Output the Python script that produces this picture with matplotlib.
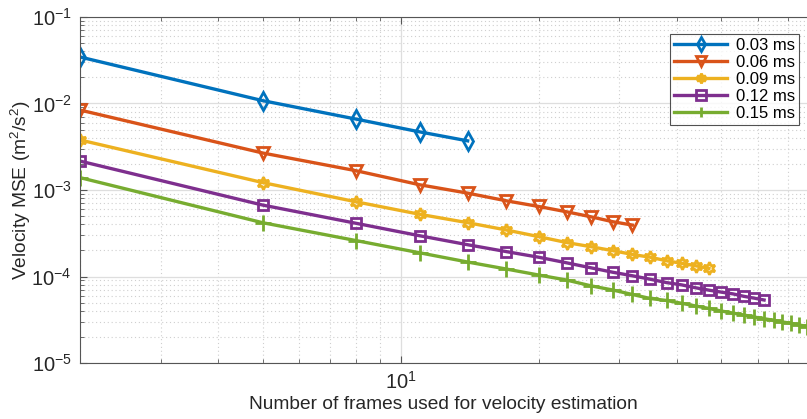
import matplotlib.pyplot as plt
from matplotlib.ticker import LogLocator, NullFormatter

plt.rcParams['font.family'] = ['Liberation Sans', 'DejaVu Sans']
plt.rcParams['mathtext.fontset'] = 'custom'
plt.rcParams['mathtext.rm'] = 'Liberation Sans'
plt.rcParams['mathtext.it'] = 'Liberation Sans'

labels = ["0.03 ms", "0.06 ms", "0.09 ms", "0.12 ms", "0.15 ms"]
colors = ["#0072BD", "#D95319", "#EDB120", "#7E2F8E", "#77AC30"]
# six-pointed star stands in for MATLAB's hexagram
markers = ["d", "v", (6, 1, 0), "s", "+"]
marker_sizes = [9, 8, 9, 7, 11]

frames_003 = [2, 5, 8, 11, 14]
mse_003 = [3.45e-2, 1.08e-2, 6.6e-3, 4.7e-3, 3.7e-3]

frames_006 = [2, 5, 8, 11, 14, 17, 20, 23, 26, 29, 32]
mse_006 = [8.4e-3, 2.68e-3, 1.67e-3, 1.15e-3, 9.2e-4, 7.5e-4, 6.45e-4,
           5.6e-4, 4.9e-4, 4.3e-4, 3.93e-4]

frames_009 = [2, 5, 8, 11, 14, 17, 20, 23, 26, 29, 32, 35, 38, 41, 44, 47]
mse_009 = [3.79e-3, 1.22e-3, 7.3e-4, 5.24e-4, 4.19e-4, 3.45e-4, 2.89e-4,
           2.47e-4, 2.21e-4, 1.99e-4, 1.8e-4, 1.67e-4, 1.52e-4, 1.42e-4,
           1.33e-4, 1.24e-4]

frames_012 = [2, 5, 8, 11, 14, 17, 20, 23, 26, 29, 32, 35, 38, 41, 44, 47,
              50, 53, 56, 59, 62]
mse_012 = [2.16e-3, 6.7e-4, 4.12e-4, 2.96e-4, 2.33e-4, 1.94e-4, 1.67e-4,
           1.44e-4, 1.26e-4, 1.12e-4, 1.02e-4, 9.3e-5, 8.5e-5, 8.0e-5,
           7.4e-5, 6.95e-5, 6.6e-5, 6.3e-5, 5.9e-5, 5.62e-5, 5.35e-5]

frames_015 = [2, 5, 8, 11, 14, 17, 20, 23, 26, 29, 32, 35, 38, 41, 44, 47,
              50, 53, 56, 59, 62, 65, 68, 71, 74, 77]
mse_015 = [1.39e-3, 4.19e-4, 2.6e-4, 1.88e-4, 1.47e-4, 1.22e-4, 1.04e-4,
           9.1e-5, 7.8e-5, 6.98e-5, 6.2e-5, 5.57e-5, 5.28e-5, 4.9e-5,
           4.56e-5, 4.27e-5, 3.99e-5, 3.78e-5, 3.59e-5, 3.4e-5, 3.25e-5,
           3.12e-5, 2.98e-5, 2.88e-5, 2.75e-5, 2.64e-5]

series = [(frames_003, mse_003), (frames_006, mse_006), (frames_009, mse_009),
          (frames_012, mse_012), (frames_015, mse_015)]

fig = plt.figure(figsize=(8.07, 4.19), dpi=100)
ax = fig.add_axes([80 / 807, 56 / 419, 727 / 807, 346 / 419])

for (x, y), lab, c, m, ms in zip(series, labels, colors, markers, marker_sizes):
    ax.plot(x, y, color=c, marker=m, markersize=ms, markerfacecolor="none",
            markeredgewidth=2, linewidth=2.4, label=lab)

ax.set_xscale("log")
ax.set_yscale("log")
ax.set_xlim(2, 76.9)
ax.set_ylim(1e-5, 1e-1)

ax.xaxis.set_major_locator(LogLocator(base=10, numticks=10))
ax.xaxis.set_minor_locator(LogLocator(base=10, subs=range(2, 10), numticks=10))
ax.xaxis.set_minor_formatter(NullFormatter())
ax.yaxis.set_major_locator(LogLocator(base=10, numticks=10))
ax.yaxis.set_minor_locator(LogLocator(base=10, subs=range(2, 10), numticks=10))
ax.yaxis.set_minor_formatter(NullFormatter())

ax.grid(True, which="major", color="#dedede", linewidth=0.9, linestyle="-")
ax.grid(True, which="minor", color="#cfcfcf", linewidth=0.8,
        linestyle=(0, (1, 2.5)))
ax.set_axisbelow(True)

for s in ["left", "bottom", "top"]:
    ax.spines[s].set_color("#555555")
    ax.spines[s].set_linewidth(0.8)
ax.spines["right"].set_visible(False)

ax.tick_params(which="both", direction="in", colors="#555555", top=True,
               labelcolor="#262626", labelsize=14.5)
ax.tick_params(which="major", length=5, pad=6)
ax.tick_params(which="minor", length=3)

ax.set_xlabel("Number of frames used for velocity estimation", fontsize=13.8,
              color="#262626", labelpad=2)
ax.set_ylabel("Velocity MSE (m$^2$/s$^2$)", fontsize=13.8, color="#262626")
ax.yaxis.set_label_coords(-0.064, 0.5)

leg = ax.legend(loc="upper right", bbox_to_anchor=(719 / 727, 329 / 346),
                fontsize=12, frameon=True, fancybox=False, handlelength=3.2,
                borderpad=0.25, labelspacing=0.12, handletextpad=0.5,
                borderaxespad=0)
leg.get_frame().set_edgecolor("#262626")
leg.get_frame().set_linewidth(0.8)
for h in leg.legend_handles:
    h.set_markersize(7)

fig.savefig("out.png", dpi=100)
